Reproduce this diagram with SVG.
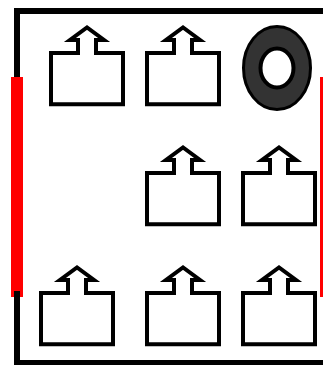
<svg xmlns="http://www.w3.org/2000/svg" width="323" height="365" viewBox="0 0 323 365">
<style>
.f{fill:none;stroke:#000;stroke-width:6}
.r{fill:#f00}
.p{fill:#fff;stroke:#000;stroke-width:4}
</style>
<defs><path id="pk" d="M51 53H78V40H70L87 27.5L104 40H96V53H123V104.3H51Z"/></defs>
<rect width="323" height="365" fill="#fff"/>
<g id="frame-top"><path class="f" d="M323 11H17V80"/></g>
<g id="red-left"><rect class="r" x="11" y="77" width="12" height="220"/></g>
<g id="red-right"><rect class="r" x="320" y="77" width="3" height="220"/></g>
<g id="frame-bottom"><path class="f" d="M17 291V363H323"/></g>
<g id="n1"><use class="p" href="#pk"/></g>
<g id="n2"><use class="p" href="#pk" x="96"/></g>
<g id="n3"><ellipse cx="277" cy="68" rx="33.5" ry="41.5" fill="#333" stroke="#000" stroke-width="3"/><ellipse cx="277" cy="68" rx="16.5" ry="19.5" fill="#fff" stroke="#000" stroke-width="4"/></g>
<g id="n4"><use class="p" href="#pk" x="96" y="120"/></g>
<g id="n5"><use class="p" href="#pk" x="192" y="120"/></g>
<g id="n6"><use class="p" href="#pk" x="-10" y="240"/></g>
<g id="n7"><use class="p" href="#pk" x="96" y="240"/></g>
<g id="n8"><use class="p" href="#pk" x="192" y="240"/></g>
</svg>
